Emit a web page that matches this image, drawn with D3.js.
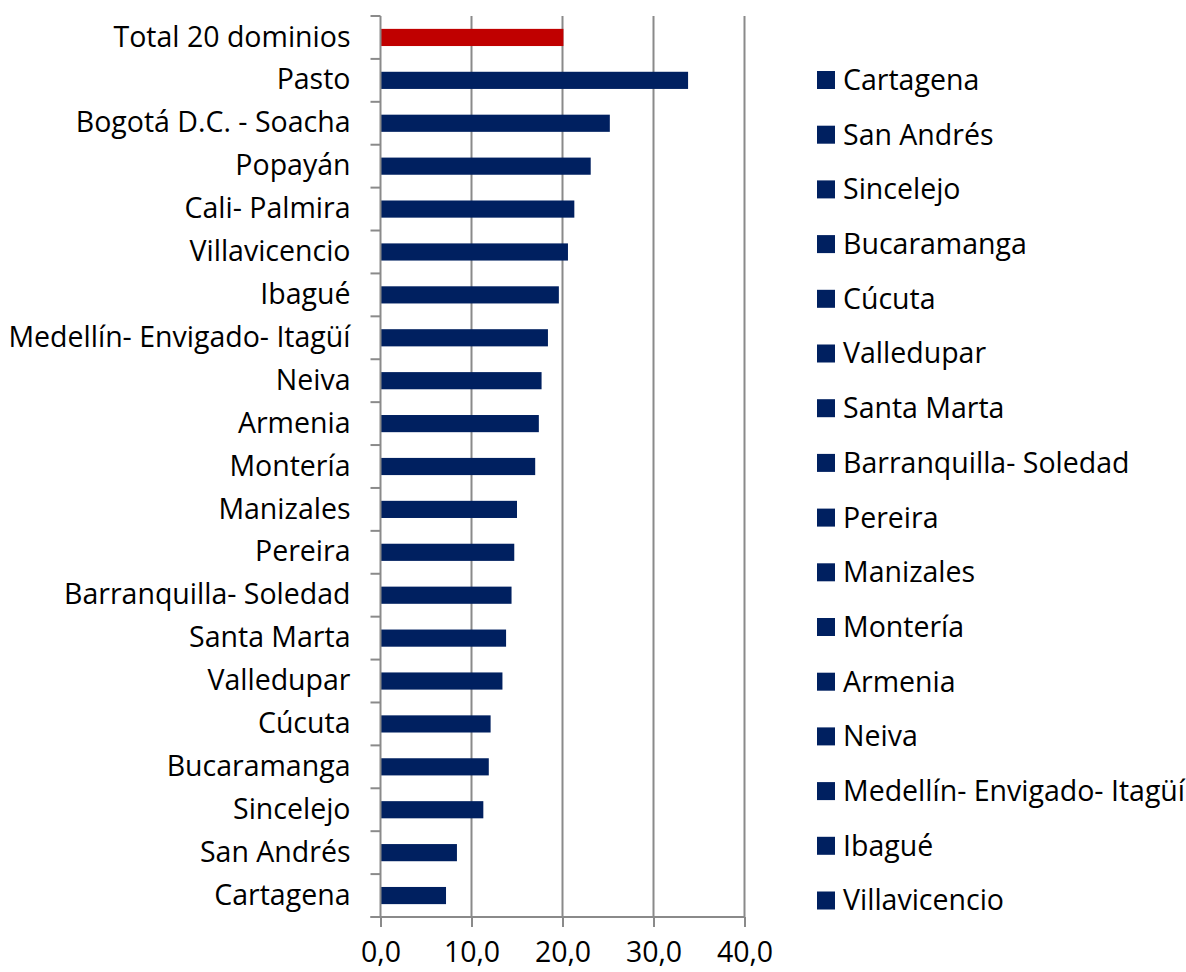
<!DOCTYPE html>
<html>
<head>
<meta charset="utf-8">
<script src="https://cdn.jsdelivr.net/npm/d3@7"></script>
<style>
  body { margin: 0; background: #fff; }
  svg text { font-family: "Open Sans", "Noto Sans", sans-serif; fill: #000; }
</style>
</head>
<body>
<div id="chart"></div>
<script>
// categories, top to bottom as drawn
const dominios = ["Total 20 dominios", "Pasto", "Bogotá D.C. - Soacha", "Popayán", "Cali- Palmira",
  "Villavicencio", "Ibagué", "Medellín- Envigado- Itagüí", "Neiva", "Armenia", "Montería",
  "Manizales", "Pereira", "Barranquilla- Soledad", "Santa Marta", "Valledupar", "Cúcuta",
  "Bucaramanga", "Sincelejo", "San Andrés", "Cartagena"];
const valores = [20.1, 33.8, 25.2, 23.1, 21.3, 20.6, 19.6, 18.4, 17.7, 17.4, 17.0,
  15.0, 14.7, 14.4, 13.8, 13.4, 12.1, 11.9, 11.3, 8.4, 7.2];
const xTicks = [0, 10, 20, 30, 40];
// legend only shows the first 16 series (Excel cuts the rest off)
const legendItems = ["Cartagena", "San Andrés", "Sincelejo", "Bucaramanga", "Cúcuta", "Valledupar",
  "Santa Marta", "Barranquilla- Soledad", "Pereira", "Manizales", "Montería", "Armenia",
  "Neiva", "Medellín- Envigado- Itagüí", "Ibagué", "Villavicencio"];

const data = dominios.map((d, i) => ({ name: d, value: valores[i] }));

const W = 1186, H = 972;
const plotL = 380.5, plotR = 744.5, plotT = 16, plotB = 917;
const fontSize = 28.5;
const navy = "#002060", red = "#C00000", grid = "#8a8a8a";

const svg = d3.select("#chart").append("svg")
  .attr("width", W).attr("height", H);

const x = d3.scaleLinear().domain([0, 40]).range([plotL, plotR]);
const y = d3.scaleBand().domain(dominios).range([plotT, plotB]).padding(0);

// vertical gridlines
svg.append("g").selectAll("line")
  .data(xTicks.slice(1))
  .enter().append("line")
  .attr("x1", d => x(d)).attr("x2", d => x(d))
  .attr("y1", plotT).attr("y2", plotB)
  .attr("stroke", grid).attr("stroke-width", 2);

// bars
svg.append("g").selectAll("rect")
  .data(data)
  .enter().append("rect")
  .attr("x", x(0))
  .attr("y", d => y(d.name) + y.bandwidth() * 0.3)
  .attr("width", d => x(d.value) - x(0))
  .attr("height", y.bandwidth() * 0.4)
  .attr("fill", (d, i) => i === 0 ? red : navy);

// bottom axis
const axisX = d3.axisBottom(x)
  .tickValues(xTicks)
  .tickSize(10)
  .tickPadding(15)
  .tickFormat(d => d3.format(".1f")(d).replace(".", ","));
const gx = svg.append("g")
  .attr("transform", "translate(0," + plotB + ")")
  .call(axisX);
gx.select(".domain").attr("d", "M" + (plotL - 10) + ",0H" + plotR)
  .attr("stroke", grid).attr("stroke-width", 2);
gx.selectAll(".tick line").attr("stroke", grid).attr("stroke-width", 2);
gx.selectAll(".tick text").attr("font-size", fontSize);

// left axis: labels at band centres, ticks at band boundaries
const axisY = d3.axisLeft(y).tickSize(0).tickPadding(30);
const gy = svg.append("g")
  .attr("transform", "translate(" + plotL + ",0)")
  .call(axisY);
gy.select(".domain").attr("d", "M0," + plotT + "V" + plotB)
  .attr("stroke", grid).attr("stroke-width", 2);
gy.selectAll(".tick text").attr("font-size", fontSize);

const edges = dominios.map(d => y(d)).concat([plotB]);
gy.append("g").selectAll("line")
  .data(edges)
  .enter().append("line")
  .attr("x1", -10).attr("x2", 0)
  .attr("y1", d => d).attr("y2", d => d)
  .attr("stroke", grid).attr("stroke-width", 2);

// legend
const legendStep = 54.7;
const lg = svg.append("g").attr("transform", "translate(817,80)");
const item = lg.selectAll("g")
  .data(legendItems)
  .enter().append("g")
  .attr("transform", (d, i) => "translate(0," + (i * legendStep) + ")");
item.append("rect")
  .attr("x", 0).attr("y", -9)
  .attr("width", 18).attr("height", 18)
  .attr("fill", navy);
item.append("text")
  .attr("x", 26).attr("y", 0)
  .attr("dy", "0.35em")
  .attr("font-size", fontSize)
  .text(d => d);
</script>
</body>
</html>
